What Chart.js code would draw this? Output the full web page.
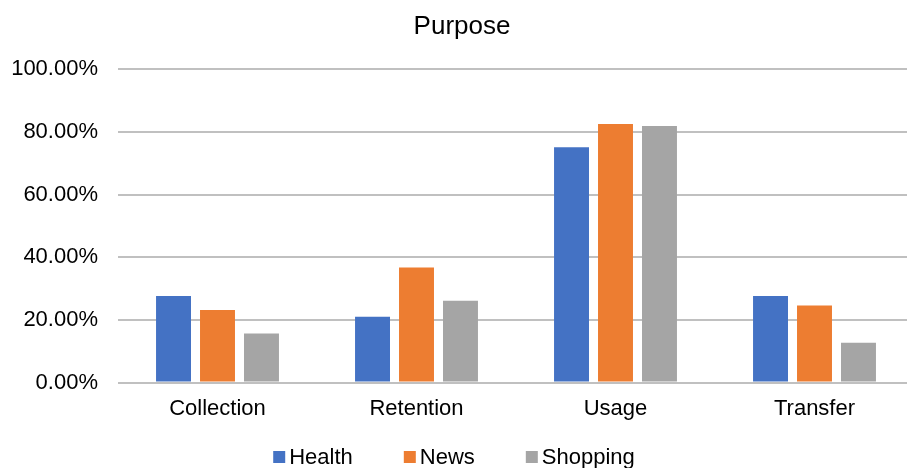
<!DOCTYPE html>
<html><head><meta charset="utf-8">
<script src="https://cdn.jsdelivr.net/npm/chart.js@4/dist/chart.umd.min.js"></script>
<style>
html,body{margin:0;padding:0;background:#fff;overflow:hidden;}
#wrap{width:918px;height:468px;position:relative;}
</style></head>
<body>
<div id="wrap"><canvas id="c"></canvas></div>
<script>
const categories = ['Collection', 'Retention', 'Usage', 'Transfer'];
const health = [27.6, 21.0, 75.1, 27.6];
const news = [23.2, 36.7, 82.5, 24.6];
const shopping = [15.7, 26.1, 81.9, 12.7];
const yTicks = [0, 20, 40, 60, 80, 100];

const FONT = '"Liberation Sans", Arial, sans-serif';

// Legend drawn beneath the axis, laid out like the original (small swatch, wide spacing)
const bottomLegend = {
  id: 'bottomLegend',
  afterDraw(chart) {
    const ctx = chart.ctx;
    const items = chart.data.datasets.map(d => ({text: d.label, color: d.backgroundColor}));
    const box = 12, gapText = 4, gapItem = 51;
    ctx.save();
    ctx.font = '22px ' + FONT;
    ctx.textBaseline = 'middle';
    ctx.textAlign = 'left';
    const widths = items.map(it => ctx.measureText(it.text).width);
    const total = widths.reduce((a, w) => a + box + gapText + w, 0) + gapItem * (items.length - 1);
    let x = 454 - total / 2;
    const yc = 457;
    items.forEach((it, i) => {
      ctx.fillStyle = it.color;
      ctx.fillRect(x, yc - box / 2, box, box);
      ctx.fillStyle = '#000';
      ctx.fillText(it.text, x + box + gapText, yc + 1);
      x += box + gapText + widths[i] + gapItem;
    });
    ctx.restore();
  }
};

new Chart(document.getElementById('c'), {
  type: 'bar',
  data: {
    labels: categories,
    datasets: [
      {label: 'Health', data: health, backgroundColor: '#4472C4'},
      {label: 'News', data: news, backgroundColor: '#ED7D31'},
      {label: 'Shopping', data: shopping, backgroundColor: '#A5A5A5'}
    ]
  },
  plugins: [bottomLegend],
  options: {
    responsive: true,
    maintainAspectRatio: false,
    animation: false,
    categoryPercentage: 0.663,
    barPercentage: 0.795,
    layout: {padding: {left: 10, right: 4, top: 11, bottom: 33}},
    plugins: {
      title: {display: true, text: 'Purpose', color: '#000', font: {family: FONT, size: 26, weight: 'normal'}, padding: {top: 0, bottom: 27}},
      legend: {display: false},
      tooltip: {enabled: false}
    },
    scales: {
      x: {
        grid: {display: false, drawTicks: false},
        border: {display: false},
        ticks: {color: '#000', font: {family: FONT, size: 22}, padding: 13}
      },
      y: {
        min: 0, max: 100,
        afterBuildTicks: (axis) => { axis.ticks = yTicks.map(v => ({value: v})); },
        afterFit: (axis) => { axis.width = 108; },
        grid: {color: '#c0c0c0', lineWidth: 2, drawTicks: false},
        border: {display: false},
        ticks: {color: '#000', font: {family: FONT, size: 22}, padding: 20, callback: v => v.toFixed(2) + '%'}
      }
    }
  }
});
</script>
</body></html>
